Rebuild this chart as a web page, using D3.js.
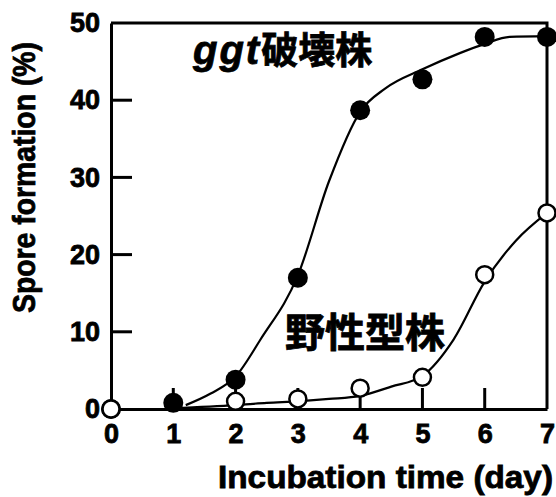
<!DOCTYPE html>
<html>
<head>
<meta charset="utf-8">
<script src="https://cdn.jsdelivr.net/npm/d3@7"></script>
<style>
  body { margin: 0; background: #fff; }
  svg { display: block; }
</style>
</head>
<body>
<div id="chart"></div>
<script>
// basic dimensions
var width = 556;
var height = 497;
var margin = { top: 23, right: 9, bottom: 88, left: 111 };

// DATA
var days = [0, 1, 2, 3, 4, 5, 6, 7];
var ggtValues = [0, 0.8, 3.8, 17.0, 38.7, 42.7, 48.2, 48.2];

var wildDays = [0, 2, 3, 4, 5, 6, 7];
var wildValues = [0, 1.0, 1.3, 2.7, 4.1, 17.4, 25.4];

// fitted curves as drawn in the figure
var ggtFitDays = [1.2, 1.6, 2.0, 2.4, 3.0, 3.5, 4.0, 4.4, 5.0, 5.6, 6.0, 6.4, 7.0];
var ggtFitValues = [0.5, 2.0, 4.2, 9.0, 17.3, 29.5, 38.5, 41.5, 44.0, 46.1, 47.3, 48.2, 48.3];

var wildFitDays = [1, 2, 2.5, 3, 3.5, 4, 4.5, 5, 5.5, 6, 6.5, 7];
var wildFitValues = [0.1, 0.5, 0.8, 1.0, 1.3, 1.7, 2.9, 4.3, 9.0, 16.5, 21.8, 25.4];

var xTicks = [0, 1, 2, 3, 4, 5, 6, 7];
var yTicks = [0, 10, 20, 30, 40, 50];

var xTitle = "Incubation time (day)";
var yTitle = "Spore formation (%)";
var ggtLabel = "ggt";
var ggtLabelJa = "破壊株";
var wildLabel = "野性型株";

var innerW = width - margin.left - margin.right;
var innerH = height - margin.top - margin.bottom;
var tickLen = 21;

// SCALES
var xScale = d3.scaleLinear().domain([0, 7]).range([0, innerW]);
var yScale = d3.scaleLinear().domain([0, 50]).range([innerH, 0]);

var zip = function(xs, ys) {
    return xs.map(function(x, i) { return { day: x, value: ys[i] }; });
};

var lineGen = d3.line()
    .curve(d3.curveMonotoneX)
    .x(function(d) { return xScale(d.day); })
    .y(function(d) { return yScale(d.value); });

var svg = d3.select("#chart")
    .append("svg")
    .attr("width", width)
    .attr("height", height);

var g = svg.append("g")
    .attr("transform", "translate(" + margin.left + "," + margin.top + ")");

// frame (top and right)
g.append("path")
    .attr("d", "M0,0H" + innerW + "V" + innerH)
    .attr("fill", "none")
    .attr("stroke", "#000")
    .attr("stroke-width", 3);

// axes (labels + domain line)
var yAxis = g.append("g")
    .attr("class", "y axis")
    .call(d3.axisLeft(yScale).tickValues(yTicks).tickFormat(d3.format("d"))
        .tickSize(0).tickPadding(11));

var xAxis = g.append("g")
    .attr("class", "x axis")
    .attr("transform", "translate(0," + innerH + ")")
    .call(d3.axisBottom(xScale).tickValues(xTicks).tickFormat(d3.format("d"))
        .tickSize(0).tickPadding(15));

[xAxis, yAxis].forEach(function(ax) {
    ax.select(".domain").attr("stroke", "#000").attr("stroke-width", 3);
    ax.selectAll(".tick text")
        .attr("fill", "#000")
        .attr("stroke", "#000")
        .attr("stroke-width", 0.8)
        .style("font-family", "'Liberation Sans', Arial, sans-serif")
        .style("font-weight", "bold")
        .style("font-size", "27px");
});

// inward tick marks
g.selectAll(".yTick")
    .data(yTicks.slice(1, -1))
    .enter()
    .append("path")
    .attr("class", "yTick")
    .attr("d", function(d) { return "M0," + yScale(d) + "H" + tickLen; })
    .attr("fill", "none")
    .attr("stroke", "#000")
    .attr("stroke-width", 3);

g.selectAll(".xTick")
    .data(xTicks.slice(1, -1))
    .enter()
    .append("path")
    .attr("class", "xTick")
    .attr("d", function(d) { return "M" + xScale(d) + "," + innerH + "V" + (innerH - tickLen); })
    .attr("fill", "none")
    .attr("stroke", "#000")
    .attr("stroke-width", 3);

// fitted curves
g.append("path")
    .datum(zip(wildFitDays, wildFitValues))
    .attr("d", lineGen)
    .attr("fill", "none")
    .attr("stroke", "#000")
    .attr("stroke-width", 2.2);

g.append("path")
    .datum(zip(ggtFitDays, ggtFitValues))
    .attr("d", lineGen)
    .attr("fill", "none")
    .attr("stroke", "#000")
    .attr("stroke-width", 2.2);

// markers: ggt disruptant (filled), wild type (open)
g.selectAll(".ggtDot")
    .data(zip(days, ggtValues))
    .enter()
    .append("circle")
    .attr("class", "ggtDot")
    .attr("cx", function(d) { return xScale(d.day); })
    .attr("cy", function(d) { return yScale(d.value); })
    .attr("r", 10)
    .attr("fill", "#000");

g.selectAll(".wildDot")
    .data(zip(wildDays, wildValues))
    .enter()
    .append("circle")
    .attr("class", "wildDot")
    .attr("cx", function(d) { return xScale(d.day); })
    .attr("cy", function(d) { return yScale(d.value); })
    .attr("r", 8.5)
    .attr("fill", "#fff")
    .attr("stroke", "#000")
    .attr("stroke-width", 2.5);

// series labels
var lab1 = svg.append("text")
    .attr("x", 193)
    .attr("y", 64)
    .attr("fill", "#000")
    .attr("stroke", "#000")
    .attr("stroke-width", 0.8)
    .style("font-weight", "bold");
lab1.append("tspan")
    .style("font-family", "'Liberation Sans', Arial, sans-serif")
    .style("font-style", "italic")
    .style("font-size", "40px")
    .style("letter-spacing", "2px")
    .text(ggtLabel);
lab1.append("tspan")
    .style("font-family", "'Noto Sans CJK JP', sans-serif")
    .style("font-size", "37px")
    .text(ggtLabelJa);

svg.append("text")
    .attr("x", 285)
    .attr("y", 347)
    .attr("fill", "#000")
    .attr("stroke", "#000")
    .attr("stroke-width", 0.8)
    .style("font-family", "'Noto Sans CJK JP', sans-serif")
    .style("font-weight", "bold")
    .style("font-size", "40px")
    .text(wildLabel);

// axis titles
svg.append("text")
    .attr("x", 218)
    .attr("y", 488)
    .attr("textLength", 335)
    .attr("lengthAdjust", "spacingAndGlyphs")
    .attr("fill", "#000")
    .attr("stroke", "#000")
    .attr("stroke-width", 0.8)
    .style("font-family", "'Liberation Sans', Arial, sans-serif")
    .style("font-weight", "bold")
    .style("font-size", "31px")
    .text(xTitle);

svg.append("text")
    .attr("transform", "translate(35,313) rotate(-90)")
    .attr("x", 0)
    .attr("y", 0)
    .attr("textLength", 271)
    .attr("lengthAdjust", "spacingAndGlyphs")
    .attr("fill", "#000")
    .attr("stroke", "#000")
    .attr("stroke-width", 0.8)
    .style("font-family", "'Liberation Sans', Arial, sans-serif")
    .style("font-weight", "bold")
    .style("font-size", "32px")
    .text(yTitle);
</script>
</body>
</html>
